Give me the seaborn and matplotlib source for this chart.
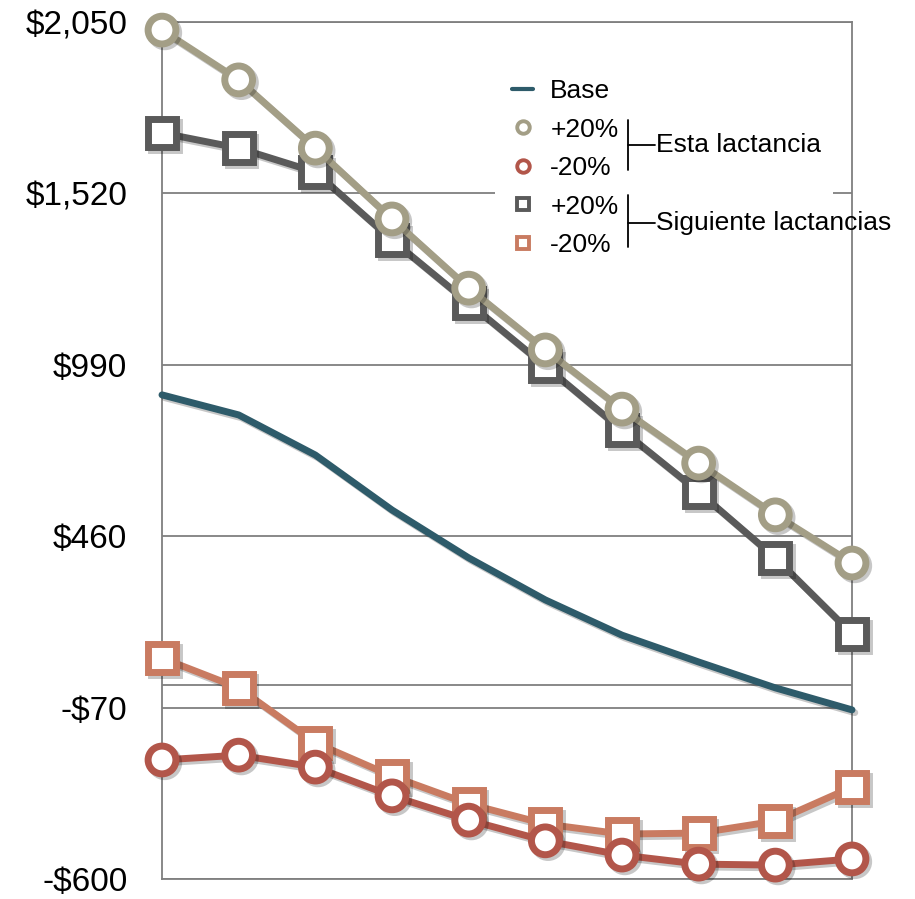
import matplotlib
matplotlib.use("Agg")
import matplotlib.pyplot as plt
import matplotlib.patheffects as pe
from matplotlib.lines import Line2D
from matplotlib.patches import Rectangle
import seaborn as sns
import pandas as pd

sns.set_style("white")
plt.rcParams['font.family'] = ['Liberation Sans', 'DejaVu Sans']
plt.rcParams['text.color'] = 'black'
plt.rcParams['ytick.color'] = 'black'

periods = list(range(10))
base = [897, 835, 711, 541, 393, 263, 154, 71, -9, -77]
esta_plus = [2025, 1871, 1660, 1441, 1227, 1036, 853, 686, 526, 377]
esta_minus = [-232, -217, -254, -343, -418, -482, -526, -554, -557, -538]
sig_plus = [1707, 1660, 1586, 1376, 1181, 986, 788, 597, 393, 158]
sig_minus = [83, -9, -179, -282, -368, -430, -461, -458, -421, -316]

yticks = [-600, -70, 460, 990, 1520, 2050]
ytick_labels = ["-$600", "-$70", "$460", "$990", "$1,520", "$2,050"]

legend_labels = ["Base", "+20%", "-20%", "+20%", "-20%"]
group_labels = ["Esta lactancia", "Siguiente lactancias"]

c_base = "#2e5b6a"
c_esta_p = "#a39e86"
c_esta_m = "#b2564a"
c_sig_p = "#5a5a5a"
c_sig_m = "#c97b61"
grid_c = "#7f7f7f"

fig = plt.figure(figsize=(9.15, 8.99), dpi=100)
ax = fig.add_axes([162/915, 1-879/899, 690/915, 857/899])

shadow = [pe.SimpleLineShadow(offset=(2, -2), alpha=0.22, shadow_color="black"), pe.Normal()]

series = [
    (base, c_base, None),
    (sig_minus, c_sig_m, "s"),
    (esta_minus, c_esta_m, "o"),
    (sig_plus, c_sig_p, "s"),
    (esta_plus, c_esta_p, "o"),
]
for vals, col, mk in series:
    df = pd.DataFrame({"x": periods, "y": vals})
    kw = dict(color=col, linewidth=5, ax=ax, clip_on=False, zorder=3)
    if mk is not None:
        kw.update(marker=mk, markersize=20, markerfacecolor="white",
                  markeredgecolor=col, markeredgewidth=5)
    sns.lineplot(data=df, x="x", y="y", **kw)
for ln in ax.get_lines():
    ln.set_path_effects(shadow)

ax.set_xlim(0, 9)
ax.set_ylim(-600, 2050)
ax.set_xticks([])
ax.set_yticks(yticks)
ax.set_yticklabels(ytick_labels)
ax.set_xlabel("")
ax.set_ylabel("")
ax.tick_params(axis="y", length=0, pad=25, labelsize=24, labelcolor="black")
ax.yaxis.grid(True, color=grid_c, linewidth=1.3)
ax.set_axisbelow(True)
ax.axhline(0, color=grid_c, linewidth=1.3, zorder=0.5)
for s in ax.spines.values():
    s.set_color(grid_c)
    s.set_linewidth(1.3)

# white backing for legend area
ax.add_patch(Rectangle(((495-162)/690, 1-(258-22)/857), (833-495)/690, (258-65)/857,
                       transform=ax.transAxes, facecolor="white", edgecolor="none", zorder=1))

handles = [
    Line2D([0], [0], color=c_base, linewidth=3),
    Line2D([0], [0], color=c_esta_p, marker="o", markersize=9, markerfacecolor="white",
           markeredgewidth=2.8, linestyle="none"),
    Line2D([0], [0], color=c_esta_m, marker="o", markersize=9, markerfacecolor="white",
           markeredgewidth=2.8, linestyle="none"),
    Line2D([0], [0], color=c_sig_p, marker="s", markersize=9, markerfacecolor="white",
           markeredgewidth=2.8, linestyle="none"),
    Line2D([0], [0], color=c_sig_m, marker="s", markersize=9, markerfacecolor="white",
           markeredgewidth=2.8, linestyle="none"),
]
leg = ax.legend(handles, legend_labels, loc="upper left",
                bbox_to_anchor=(512/915, 1-79/899), bbox_transform=fig.transFigure,
                frameon=False, fontsize=19, handlelength=0.8, handletextpad=0.65,
                labelspacing=0.55, borderpad=0, borderaxespad=0)
leg.set_zorder(5)

def bracket(y0, y1, ym, text):
    t = fig.transFigure
    x0 = 628/915
    x1 = 655/915
    fig.add_artist(Line2D([x0, x0], [1-y0/899, 1-y1/899], color="black", linewidth=1.3, transform=t))
    fig.add_artist(Line2D([x0, x1], [1-ym/899, 1-ym/899], color="black", linewidth=1.3, transform=t))
    fig.text(656/915, 1-ym/899, text, fontsize=19, va="center", ha="left", color="black")

bracket(120, 170, 145, group_labels[0])
bracket(195, 247, 223, group_labels[1])

fig.savefig("out.png", dpi=100, facecolor="white")
